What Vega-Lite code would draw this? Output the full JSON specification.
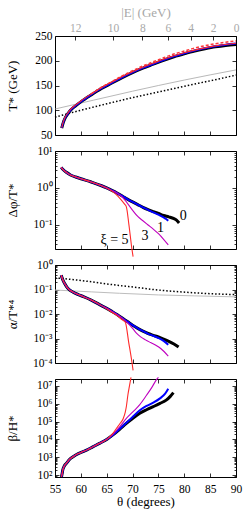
{
"$schema": "https://vega.github.io/schema/vega-lite/v6.json",
"padding": {"left": 5, "top": 5, "right": 2, "bottom": 2},
"config": {
  "font": "Liberation Serif",
  "view": {"stroke": "black", "strokeWidth": 1},
  "line": {"clip": true, "interpolate": "monotone"},
  "axis": {"domain": false, "grid": false, "labelFont": "Liberation Serif", "titleFont": "Liberation Serif", "labelFontSize": 11.5, "titleFontSize": 13, "titleFontWeight": "normal", "tickColor": "black", "labelColor": "black", "titleColor": "black", "tickWidth": 0.8, "labelFlush": false, "labelOverlap": false}
},
"datasets": {
  "d": [
    {"p":1,"s":"g","x":55,"y":102.5},{"p":1,"s":"g","x":62.5,"y":120.5},{"p":1,"s":"g","x":70,"y":138.5},{"p":1,"s":"g","x":80,"y":161},{"p":1,"s":"g","x":90,"y":181.5},
    {"p":1,"s":"dot","x":55,"y":86},{"p":1,"s":"dot","x":60,"y":100},{"p":1,"s":"dot","x":65,"y":113},{"p":1,"s":"dot","x":70,"y":125.5},{"p":1,"s":"dot","x":75,"y":137},{"p":1,"s":"dot","x":80,"y":148.5},{"p":1,"s":"dot","x":85,"y":159.5},{"p":1,"s":"dot","x":90,"y":171},
    {"p":1,"s":"k","x":56.3,"y":64},{"p":1,"s":"k","x":56.6,"y":75},{"p":1,"s":"k","x":57,"y":85},{"p":1,"s":"k","x":57.5,"y":93},{"p":1,"s":"k","x":58,"y":100},{"p":1,"s":"k","x":59,"y":109},{"p":1,"s":"k","x":60,"y":117},{"p":1,"s":"k","x":62,"y":131},{"p":1,"s":"k","x":64,"y":144},{"p":1,"s":"k","x":66,"y":155},{"p":1,"s":"k","x":68,"y":166},{"p":1,"s":"k","x":70,"y":176},{"p":1,"s":"k","x":72,"y":185},{"p":1,"s":"k","x":74,"y":193},{"p":1,"s":"k","x":76,"y":201},{"p":1,"s":"k","x":78,"y":208},{"p":1,"s":"k","x":80,"y":214},{"p":1,"s":"k","x":82,"y":219.5},{"p":1,"s":"k","x":84,"y":224},{"p":1,"s":"k","x":86,"y":228},{"p":1,"s":"k","x":88,"y":231},{"p":1,"s":"k","x":90,"y":233},
    {"p":1,"s":"b","x":56.3,"y":64.5},{"p":1,"s":"b","x":56.6,"y":75.5},{"p":1,"s":"b","x":57,"y":85.5},{"p":1,"s":"b","x":57.5,"y":93.5},{"p":1,"s":"b","x":58,"y":100.5},{"p":1,"s":"b","x":59,"y":109.5},{"p":1,"s":"b","x":60,"y":117.5},{"p":1,"s":"b","x":62,"y":131.5},{"p":1,"s":"b","x":64,"y":144.5},{"p":1,"s":"b","x":66,"y":155.5},{"p":1,"s":"b","x":68,"y":166.5},{"p":1,"s":"b","x":70,"y":176.5},{"p":1,"s":"b","x":72,"y":185.5},{"p":1,"s":"b","x":74,"y":193.5},{"p":1,"s":"b","x":76,"y":201.5},{"p":1,"s":"b","x":78,"y":208.8},{"p":1,"s":"b","x":80,"y":215},{"p":1,"s":"b","x":82,"y":220.7},{"p":1,"s":"b","x":84,"y":225.3},{"p":1,"s":"b","x":86,"y":229.4},{"p":1,"s":"b","x":88,"y":232.5},{"p":1,"s":"b","x":90,"y":234.7},
    {"p":1,"s":"r","x":56.3,"y":65},{"p":1,"s":"r","x":56.6,"y":76.5},{"p":1,"s":"r","x":57,"y":86.8},{"p":1,"s":"r","x":57.5,"y":94.8},{"p":1,"s":"r","x":58,"y":101.8},{"p":1,"s":"r","x":59,"y":110.8},{"p":1,"s":"r","x":60,"y":118.8},{"p":1,"s":"r","x":62,"y":132.8},{"p":1,"s":"r","x":64,"y":145.8},{"p":1,"s":"r","x":66,"y":157},{"p":1,"s":"r","x":68,"y":168},{"p":1,"s":"r","x":70,"y":178},{"p":1,"s":"r","x":72,"y":187},{"p":1,"s":"r","x":74,"y":195},{"p":1,"s":"r","x":76,"y":203},{"p":1,"s":"r","x":78,"y":210},{"p":1,"s":"r","x":80,"y":216},{"p":1,"s":"r","x":82,"y":221.5},{"p":1,"s":"r","x":84,"y":226},{"p":1,"s":"r","x":86,"y":230},{"p":1,"s":"r","x":88,"y":233},{"p":1,"s":"r","x":90,"y":235.5},
    {"p":1,"s":"rd","x":62,"y":133},{"p":1,"s":"rd","x":64,"y":146.5},{"p":1,"s":"rd","x":66,"y":158},{"p":1,"s":"rd","x":68,"y":169.5},{"p":1,"s":"rd","x":70,"y":180},{"p":1,"s":"rd","x":72,"y":189.5},{"p":1,"s":"rd","x":74,"y":198},{"p":1,"s":"rd","x":76,"y":206},{"p":1,"s":"rd","x":78,"y":213.5},{"p":1,"s":"rd","x":80,"y":219.5},{"p":1,"s":"rd","x":82,"y":225.5},{"p":1,"s":"rd","x":84,"y":230.5},{"p":1,"s":"rd","x":86,"y":234.5},{"p":1,"s":"rd","x":88,"y":237.5},{"p":1,"s":"rd","x":90,"y":240},

    {"p":2,"s":"k","x":56.2,"y":3.6},{"p":2,"s":"k","x":56.6,"y":3.1},{"p":2,"s":"k","x":57.2,"y":2.65},{"p":2,"s":"k","x":58,"y":2.25},{"p":2,"s":"k","x":59,"y":1.98},{"p":2,"s":"k","x":60,"y":1.78},{"p":2,"s":"k","x":62,"y":1.45},{"p":2,"s":"k","x":64,"y":1.15},{"p":2,"s":"k","x":65,"y":1.0},{"p":2,"s":"k","x":66,"y":0.86},{"p":2,"s":"k","x":67,"y":0.73},{"p":2,"s":"k","x":68,"y":0.61},{"p":2,"s":"k","x":69,"y":0.5},{"p":2,"s":"k","x":70,"y":0.42},{"p":2,"s":"k","x":71,"y":0.355},{"p":2,"s":"k","x":72,"y":0.3},{"p":2,"s":"k","x":73,"y":0.26},{"p":2,"s":"k","x":74,"y":0.23},{"p":2,"s":"k","x":75,"y":0.205},{"p":2,"s":"k","x":76,"y":0.18},{"p":2,"s":"k","x":77,"y":0.165},{"p":2,"s":"k","x":78,"y":0.148},{"p":2,"s":"k","x":78.5,"y":0.135},{"p":2,"s":"k","x":79,"y":0.113},
    {"p":2,"s":"b","x":56.2,"y":3.6},{"p":2,"s":"b","x":56.6,"y":3.1},{"p":2,"s":"b","x":57.2,"y":2.65},{"p":2,"s":"b","x":58,"y":2.25},{"p":2,"s":"b","x":59,"y":1.98},{"p":2,"s":"b","x":60,"y":1.78},{"p":2,"s":"b","x":62,"y":1.45},{"p":2,"s":"b","x":64,"y":1.15},{"p":2,"s":"b","x":65,"y":1.0},{"p":2,"s":"b","x":66,"y":0.86},{"p":2,"s":"b","x":67,"y":0.73},{"p":2,"s":"b","x":68,"y":0.61},{"p":2,"s":"b","x":69,"y":0.5},{"p":2,"s":"b","x":70,"y":0.42},{"p":2,"s":"b","x":71,"y":0.355},{"p":2,"s":"b","x":72,"y":0.3},{"p":2,"s":"b","x":73,"y":0.255},{"p":2,"s":"b","x":74,"y":0.22},{"p":2,"s":"b","x":75,"y":0.19},{"p":2,"s":"b","x":76,"y":0.16},{"p":2,"s":"b","x":76.5,"y":0.145},{"p":2,"s":"b","x":76.9,"y":0.13},
    {"p":2,"s":"m","x":56.2,"y":3.6},{"p":2,"s":"m","x":56.6,"y":3.1},{"p":2,"s":"m","x":57.2,"y":2.65},{"p":2,"s":"m","x":58,"y":2.25},{"p":2,"s":"m","x":59,"y":1.98},{"p":2,"s":"m","x":60,"y":1.78},{"p":2,"s":"m","x":62,"y":1.45},{"p":2,"s":"m","x":64,"y":1.15},{"p":2,"s":"m","x":65,"y":1.0},{"p":2,"s":"m","x":66,"y":0.86},{"p":2,"s":"m","x":67,"y":0.73},{"p":2,"s":"m","x":68,"y":0.57},{"p":2,"s":"m","x":68.7,"y":0.44},{"p":2,"s":"m","x":69.5,"y":0.31},{"p":2,"s":"m","x":70.1,"y":0.24},{"p":2,"s":"m","x":71,"y":0.17},{"p":2,"s":"m","x":72,"y":0.13},{"p":2,"s":"m","x":73,"y":0.1},{"p":2,"s":"m","x":74,"y":0.077},{"p":2,"s":"m","x":75,"y":0.058},{"p":2,"s":"m","x":76,"y":0.041},{"p":2,"s":"m","x":76.9,"y":0.029},
    {"p":2,"s":"r","x":56.2,"y":3.6},{"p":2,"s":"r","x":56.6,"y":3.1},{"p":2,"s":"r","x":57.2,"y":2.65},{"p":2,"s":"r","x":58,"y":2.25},{"p":2,"s":"r","x":59,"y":1.98},{"p":2,"s":"r","x":60,"y":1.78},{"p":2,"s":"r","x":62,"y":1.45},{"p":2,"s":"r","x":64,"y":1.15},{"p":2,"s":"r","x":65,"y":1.0},{"p":2,"s":"r","x":66,"y":0.82},{"p":2,"s":"r","x":67,"y":0.63},{"p":2,"s":"r","x":67.5,"y":0.53},{"p":2,"s":"r","x":68,"y":0.44},{"p":2,"s":"r","x":68.5,"y":0.36},{"p":2,"s":"r","x":68.8,"y":0.31},{"p":2,"s":"r","x":69.3,"y":0.1},{"p":2,"s":"r","x":69.9,"y":0.021},{"p":2,"s":"r","x":70.1,"y":0.014},

    {"p":3,"s":"lg","x":55,"y":0.095},{"p":3,"s":"lg","x":62,"y":0.08},{"p":3,"s":"lg","x":67.5,"y":0.07},{"p":3,"s":"lg","x":75,"y":0.06},{"p":3,"s":"lg","x":82,"y":0.055},{"p":3,"s":"lg","x":90,"y":0.05},
    {"p":3,"s":"dot","x":55,"y":0.3},{"p":3,"s":"dot","x":58,"y":0.26},{"p":3,"s":"dot","x":61,"y":0.22},{"p":3,"s":"dot","x":64,"y":0.18},{"p":3,"s":"dot","x":67.5,"y":0.145},{"p":3,"s":"dot","x":71,"y":0.12},{"p":3,"s":"dot","x":74,"y":0.1},{"p":3,"s":"dot","x":77,"y":0.087},{"p":3,"s":"dot","x":80.4,"y":0.077},{"p":3,"s":"dot","x":84,"y":0.069},{"p":3,"s":"dot","x":87,"y":0.065},{"p":3,"s":"dot","x":90,"y":0.062},
    {"p":3,"s":"k","x":56.2,"y":0.38},{"p":3,"s":"k","x":56.5,"y":0.25},{"p":3,"s":"k","x":56.9,"y":0.17},{"p":3,"s":"k","x":57.3,"y":0.125},{"p":3,"s":"k","x":57.8,"y":0.097},{"p":3,"s":"k","x":58.5,"y":0.078},{"p":3,"s":"k","x":59.5,"y":0.062},{"p":3,"s":"k","x":60.5,"y":0.051},{"p":3,"s":"k","x":62,"y":0.037},{"p":3,"s":"k","x":64,"y":0.022},{"p":3,"s":"k","x":65,"y":0.017},{"p":3,"s":"k","x":66,"y":0.0128},{"p":3,"s":"k","x":67,"y":0.0095},{"p":3,"s":"k","x":68,"y":0.0068},{"p":3,"s":"k","x":69,"y":0.0049},{"p":3,"s":"k","x":70,"y":0.0035},{"p":3,"s":"k","x":71,"y":0.0026},{"p":3,"s":"k","x":72,"y":0.002},{"p":3,"s":"k","x":73,"y":0.0016},{"p":3,"s":"k","x":74,"y":0.00135},{"p":3,"s":"k","x":75,"y":0.00115},{"p":3,"s":"k","x":76,"y":0.00095},{"p":3,"s":"k","x":77,"y":0.00077},{"p":3,"s":"k","x":78,"y":0.0006},{"p":3,"s":"k","x":78.9,"y":0.00045},
    {"p":3,"s":"b","x":56.2,"y":0.38},{"p":3,"s":"b","x":56.5,"y":0.25},{"p":3,"s":"b","x":56.9,"y":0.17},{"p":3,"s":"b","x":57.3,"y":0.125},{"p":3,"s":"b","x":57.8,"y":0.097},{"p":3,"s":"b","x":58.5,"y":0.078},{"p":3,"s":"b","x":59.5,"y":0.062},{"p":3,"s":"b","x":60.5,"y":0.051},{"p":3,"s":"b","x":62,"y":0.037},{"p":3,"s":"b","x":64,"y":0.022},{"p":3,"s":"b","x":65,"y":0.017},{"p":3,"s":"b","x":66,"y":0.0128},{"p":3,"s":"b","x":67,"y":0.0095},{"p":3,"s":"b","x":68,"y":0.0068},{"p":3,"s":"b","x":69,"y":0.0049},{"p":3,"s":"b","x":70,"y":0.0035},{"p":3,"s":"b","x":71,"y":0.0026},{"p":3,"s":"b","x":72,"y":0.002},{"p":3,"s":"b","x":73,"y":0.00155},{"p":3,"s":"b","x":74,"y":0.0013},{"p":3,"s":"b","x":75,"y":0.00105},{"p":3,"s":"b","x":76,"y":0.0008},{"p":3,"s":"b","x":76.9,"y":0.00056},
    {"p":3,"s":"m","x":56.2,"y":0.38},{"p":3,"s":"m","x":56.5,"y":0.25},{"p":3,"s":"m","x":56.9,"y":0.17},{"p":3,"s":"m","x":57.3,"y":0.125},{"p":3,"s":"m","x":57.8,"y":0.097},{"p":3,"s":"m","x":58.5,"y":0.078},{"p":3,"s":"m","x":59.5,"y":0.062},{"p":3,"s":"m","x":60.5,"y":0.051},{"p":3,"s":"m","x":62,"y":0.037},{"p":3,"s":"m","x":64,"y":0.022},{"p":3,"s":"m","x":65,"y":0.017},{"p":3,"s":"m","x":66,"y":0.0128},{"p":3,"s":"m","x":67,"y":0.0095},{"p":3,"s":"m","x":68,"y":0.0068},{"p":3,"s":"m","x":69,"y":0.0044},{"p":3,"s":"m","x":69.5,"y":0.0034},{"p":3,"s":"m","x":70,"y":0.0026},{"p":3,"s":"m","x":70.7,"y":0.0017},{"p":3,"s":"m","x":71.5,"y":0.0012},{"p":3,"s":"m","x":72.5,"y":0.00088},{"p":3,"s":"m","x":73.5,"y":0.00068},{"p":3,"s":"m","x":74.5,"y":0.00053},{"p":3,"s":"m","x":75.5,"y":0.00038},{"p":3,"s":"m","x":76.9,"y":0.00019},
    {"p":3,"s":"r","x":56.2,"y":0.38},{"p":3,"s":"r","x":56.5,"y":0.25},{"p":3,"s":"r","x":56.9,"y":0.17},{"p":3,"s":"r","x":57.3,"y":0.125},{"p":3,"s":"r","x":57.8,"y":0.097},{"p":3,"s":"r","x":58.5,"y":0.078},{"p":3,"s":"r","x":59.5,"y":0.062},{"p":3,"s":"r","x":60.5,"y":0.051},{"p":3,"s":"r","x":62,"y":0.037},{"p":3,"s":"r","x":64,"y":0.022},{"p":3,"s":"r","x":65,"y":0.0162},{"p":3,"s":"r","x":66,"y":0.0118},{"p":3,"s":"r","x":67,"y":0.0086},{"p":3,"s":"r","x":68,"y":0.0058},{"p":3,"s":"r","x":68.6,"y":0.0046},{"p":3,"s":"r","x":69.25,"y":0.0007},{"p":3,"s":"r","x":69.9,"y":0.0001},{"p":3,"s":"r","x":70.1,"y":0.00005},

    {"p":4,"s":"k","x":56.25,"y":78},{"p":4,"s":"k","x":56.4,"y":130},{"p":4,"s":"k","x":56.5,"y":190},{"p":4,"s":"k","x":56.8,"y":320},{"p":4,"s":"k","x":57.2,"y":450},{"p":4,"s":"k","x":57.8,"y":750},{"p":4,"s":"k","x":58.5,"y":1070},{"p":4,"s":"k","x":59.5,"y":1600},{"p":4,"s":"k","x":60.3,"y":2000},{"p":4,"s":"k","x":61.1,"y":2500},{"p":4,"s":"k","x":62.3,"y":3800},{"p":4,"s":"k","x":63.6,"y":6000},{"p":4,"s":"k","x":65,"y":10000},{"p":4,"s":"k","x":66.2,"y":18000},{"p":4,"s":"k","x":67.5,"y":37000},{"p":4,"s":"k","x":68.8,"y":80000},{"p":4,"s":"k","x":70,"y":150000},{"p":4,"s":"k","x":71.4,"y":290000},{"p":4,"s":"k","x":72.7,"y":460000},{"p":4,"s":"k","x":74,"y":690000},{"p":4,"s":"k","x":75.3,"y":1050000},{"p":4,"s":"k","x":76.5,"y":1600000},{"p":4,"s":"k","x":77.3,"y":2600000},{"p":4,"s":"k","x":77.9,"y":4200000},
    {"p":4,"s":"b","x":56.25,"y":78},{"p":4,"s":"b","x":56.4,"y":130},{"p":4,"s":"b","x":56.5,"y":190},{"p":4,"s":"b","x":56.8,"y":320},{"p":4,"s":"b","x":57.2,"y":450},{"p":4,"s":"b","x":57.8,"y":750},{"p":4,"s":"b","x":58.5,"y":1070},{"p":4,"s":"b","x":59.5,"y":1600},{"p":4,"s":"b","x":60.3,"y":2000},{"p":4,"s":"b","x":61.1,"y":2500},{"p":4,"s":"b","x":62.3,"y":3800},{"p":4,"s":"b","x":63.6,"y":6000},{"p":4,"s":"b","x":65,"y":10000},{"p":4,"s":"b","x":66.2,"y":18000},{"p":4,"s":"b","x":67.5,"y":38000},{"p":4,"s":"b","x":68.8,"y":85000},{"p":4,"s":"b","x":70,"y":180000},{"p":4,"s":"b","x":71.4,"y":430000},{"p":4,"s":"b","x":72.7,"y":750000},{"p":4,"s":"b","x":74,"y":1150000},{"p":4,"s":"b","x":75.3,"y":2000000},{"p":4,"s":"b","x":76.3,"y":3700000},{"p":4,"s":"b","x":76.9,"y":7000000},
    {"p":4,"s":"m","x":56.25,"y":78},{"p":4,"s":"m","x":56.4,"y":130},{"p":4,"s":"m","x":56.5,"y":190},{"p":4,"s":"m","x":56.8,"y":320},{"p":4,"s":"m","x":57.2,"y":450},{"p":4,"s":"m","x":57.8,"y":750},{"p":4,"s":"m","x":58.5,"y":1070},{"p":4,"s":"m","x":59.5,"y":1600},{"p":4,"s":"m","x":60.3,"y":2000},{"p":4,"s":"m","x":61.1,"y":2500},{"p":4,"s":"m","x":62.3,"y":3800},{"p":4,"s":"m","x":63.6,"y":6000},{"p":4,"s":"m","x":65,"y":10000},{"p":4,"s":"m","x":66.2,"y":19500},{"p":4,"s":"m","x":67.5,"y":50000},{"p":4,"s":"m","x":68.8,"y":150000},{"p":4,"s":"m","x":70.1,"y":360000},{"p":4,"s":"m","x":71.4,"y":900000},{"p":4,"s":"m","x":72.7,"y":3000000},{"p":4,"s":"m","x":73.7,"y":8000000},{"p":4,"s":"m","x":74.6,"y":22000000},{"p":4,"s":"m","x":75,"y":30000000},
    {"p":4,"s":"r","x":56.25,"y":78},{"p":4,"s":"r","x":56.4,"y":130},{"p":4,"s":"r","x":56.5,"y":190},{"p":4,"s":"r","x":56.8,"y":320},{"p":4,"s":"r","x":57.2,"y":450},{"p":4,"s":"r","x":57.8,"y":750},{"p":4,"s":"r","x":58.5,"y":1070},{"p":4,"s":"r","x":59.5,"y":1600},{"p":4,"s":"r","x":60.3,"y":2000},{"p":4,"s":"r","x":61.1,"y":2500},{"p":4,"s":"r","x":62.3,"y":3800},{"p":4,"s":"r","x":63.6,"y":6000},{"p":4,"s":"r","x":65,"y":10000},{"p":4,"s":"r","x":65.5,"y":13500},{"p":4,"s":"r","x":66.2,"y":22000},{"p":4,"s":"r","x":66.9,"y":42000},{"p":4,"s":"r","x":67.6,"y":80000},{"p":4,"s":"r","x":68.2,"y":150000},{"p":4,"s":"r","x":68.6,"y":350000},{"p":4,"s":"r","x":68.8,"y":700000},{"p":4,"s":"r","x":69.1,"y":3200000},{"p":4,"s":"r","x":69.4,"y":10000000},{"p":4,"s":"r","x":69.7,"y":30000000}
  ],
  "lab": [
    {"x":79.8,"y":0.17,"t":"0"},{"x":75.4,"y":0.085,"t":"1"},{"x":72.4,"y":0.05,"t":"3"},{"x":66.5,"y":0.039,"t":"ξ = 5"}
  ]
},
"spacing": 16,
"bounds": "flush",
"vconcat": [
  {
    "width": 181, "height": 99,
    "data": {"name": "d"},
    "transform": [{"filter": "datum.p == 1"}],
    "layer": [
      {"mark": {"type": "point", "opacity": 0, "clip": true},
       "encoding": {
         "x": {"field": "x", "type": "quantitative", "scale": {"domain": [55, 90], "nice": false, "zero": false}, "axis": {"orient": "bottom", "values": [55,60,65,70,75,80,85,90], "tickSize": -4, "labels": false, "title": null}},
         "y": {"field": "y", "type": "quantitative", "scale": {"domain": [50, 250], "nice": false, "zero": false}, "axis": {"orient": "left", "values": [50,100,150,200,250], "tickSize": -4, "labelPadding": 7, "title": "T* (GeV)", "minExtent": 30, "maxExtent": 30, "titlePadding": 6}}
       }},
      {"mark": {"type": "point", "opacity": 0, "clip": true},
       "encoding": {
         "x": {"field": "x", "type": "quantitative", "scale": {"domain": [55, 90], "nice": false, "zero": false}, "axis": {"orient": "top", "values": [58.93,66.2,71.9,76.85,81.24,85.6,90], "tickSize": -4, "labelPadding": 7, "labelColor": "#a8a8a8", "labelExpr": "datum.value==90?'0':datum.value==85.6?'2':datum.value==81.24?'4':datum.value==76.85?'6':datum.value==71.9?'8':datum.value==66.2?'10':datum.value==58.93?'12':''", "title": "|E| (GeV)", "titleColor": "#a8a8a8", "minExtent": 14, "maxExtent": 14, "titlePadding": 3}},
         "y": {"field": "y", "type": "quantitative", "scale": {"domain": [50, 250], "nice": false, "zero": false}, "axis": {"orient": "right", "values": [50,100,150,200,250], "tickSize": -4, "labels": false, "title": null}}
       }},
      {"transform": [{"filter": "datum.s == 'g'"}], "mark": {"type": "line", "color": "#999999", "strokeWidth": 0.7},
       "encoding": {"x": {"field": "x", "type": "quantitative", "scale": {"domain": [55, 90], "nice": false, "zero": false}, "axis": null}, "y": {"field": "y", "type": "quantitative", "scale": {"domain": [50, 250], "nice": false, "zero": false}, "axis": null}}},
      {"transform": [{"filter": "datum.s == 'dot'"}], "mark": {"type": "line", "color": "#000000", "strokeWidth": 1.5, "strokeDash": [1.5, 2]},
       "encoding": {"x": {"field": "x", "type": "quantitative", "scale": {"domain": [55, 90], "nice": false, "zero": false}, "axis": null}, "y": {"field": "y", "type": "quantitative", "scale": {"domain": [50, 250], "nice": false, "zero": false}, "axis": null}}},
      {"transform": [{"filter": "datum.s == 'k'"}], "mark": {"type": "line", "color": "#000000", "strokeWidth": 3},
       "encoding": {"x": {"field": "x", "type": "quantitative", "scale": {"domain": [55, 90], "nice": false, "zero": false}, "axis": null}, "y": {"field": "y", "type": "quantitative", "scale": {"domain": [50, 250], "nice": false, "zero": false}, "axis": null}}},
      {"transform": [{"filter": "datum.s == 'b'"}], "mark": {"type": "line", "color": "#0000ff", "strokeWidth": 2},
       "encoding": {"x": {"field": "x", "type": "quantitative", "scale": {"domain": [55, 90], "nice": false, "zero": false}, "axis": null}, "y": {"field": "y", "type": "quantitative", "scale": {"domain": [50, 250], "nice": false, "zero": false}, "axis": null}}},
      {"transform": [{"filter": "datum.s == 'r'"}], "mark": {"type": "line", "color": "#ff2a2a", "strokeWidth": 1.1},
       "encoding": {"x": {"field": "x", "type": "quantitative", "scale": {"domain": [55, 90], "nice": false, "zero": false}, "axis": null}, "y": {"field": "y", "type": "quantitative", "scale": {"domain": [50, 250], "nice": false, "zero": false}, "axis": null}}},
      {"transform": [{"filter": "datum.s == 'rd'"}], "mark": {"type": "line", "color": "#ff3838", "strokeWidth": 1.5, "strokeDash": [3, 2]},
       "encoding": {"x": {"field": "x", "type": "quantitative", "scale": {"domain": [55, 90], "nice": false, "zero": false}, "axis": null}, "y": {"field": "y", "type": "quantitative", "scale": {"domain": [50, 250], "nice": false, "zero": false}, "axis": null}}}
    ],
    "resolve": {"axis": {"x": "independent", "y": "independent"}}
  },
  {
    "width": 181, "height": 98,
    "data": {"name": "d"},
    "transform": [{"filter": "datum.p == 2"}],
    "layer": [
      {"mark": {"type": "point", "opacity": 0, "clip": true},
       "encoding": {
         "x": {"field": "x", "type": "quantitative", "scale": {"domain": [55, 90], "nice": false, "zero": false}, "axis": {"orient": "bottom", "values": [55,60,65,70,75,80,85,90], "tickSize": -4, "labels": false, "title": null}},
         "y": {"field": "y", "type": "quantitative", "scale": {"type": "log", "domain": [0.0224, 10], "nice": false}, "axis": {"orient": "left", "values": [0.03,0.04,0.05,0.06,0.07,0.08,0.09,0.1,0.2,0.3,0.4,0.5,0.6,0.7,0.8,0.9,1,2,3,4,5,6,7,8,9,10], "tickSize": {"condition": {"test": "indexof([0.1,1,10], datum.value) >= 0", "value": -4}, "value": -2}, "labelPadding": 7, "labelExpr": "datum.value==10?'10¹':datum.value==1?'10⁰':datum.value==0.1?'10⁻¹':''", "title": "Δφ/T*", "minExtent": 30, "maxExtent": 30, "titlePadding": 6}}
       }},
      {"mark": {"type": "point", "opacity": 0, "clip": true},
       "encoding": {
         "x": {"field": "x", "type": "quantitative", "scale": {"domain": [55, 90], "nice": false, "zero": false}, "axis": {"orient": "top", "values": [55,60,65,70,75,80,85,90], "tickSize": -4, "labels": false, "title": null}},
         "y": {"field": "y", "type": "quantitative", "scale": {"type": "log", "domain": [0.0224, 10], "nice": false}, "axis": {"orient": "right", "values": [0.03,0.04,0.05,0.06,0.07,0.08,0.09,0.1,0.2,0.3,0.4,0.5,0.6,0.7,0.8,0.9,1,2,3,4,5,6,7,8,9,10], "tickSize": {"condition": {"test": "indexof([0.1,1,10], datum.value) >= 0", "value": -4}, "value": -2}, "labels": false, "title": null}}
       }},
      {"transform": [{"filter": "datum.s == 'k'"}], "mark": {"type": "line", "color": "#000000", "strokeWidth": 3},
       "encoding": {"x": {"field": "x", "type": "quantitative", "scale": {"domain": [55, 90], "nice": false, "zero": false}, "axis": null}, "y": {"field": "y", "type": "quantitative", "scale": {"type": "log", "domain": [0.0224, 10], "nice": false}, "axis": null}}},
      {"transform": [{"filter": "datum.s == 'b'"}], "mark": {"type": "line", "color": "#0000ff", "strokeWidth": 2},
       "encoding": {"x": {"field": "x", "type": "quantitative", "scale": {"domain": [55, 90], "nice": false, "zero": false}, "axis": null}, "y": {"field": "y", "type": "quantitative", "scale": {"type": "log", "domain": [0.0224, 10], "nice": false}, "axis": null}}},
      {"transform": [{"filter": "datum.s == 'm'"}], "mark": {"type": "line", "color": "#bf00bf", "strokeWidth": 1.1},
       "encoding": {"x": {"field": "x", "type": "quantitative", "scale": {"domain": [55, 90], "nice": false, "zero": false}, "axis": null}, "y": {"field": "y", "type": "quantitative", "scale": {"type": "log", "domain": [0.0224, 10], "nice": false}, "axis": null}}},
      {"transform": [{"filter": "datum.s == 'r'"}], "mark": {"type": "line", "color": "#ff2a2a", "strokeWidth": 1.1},
       "encoding": {"x": {"field": "x", "type": "quantitative", "scale": {"domain": [55, 90], "nice": false, "zero": false}, "axis": null}, "y": {"field": "y", "type": "quantitative", "scale": {"type": "log", "domain": [0.0224, 10], "nice": false}, "axis": null}}},
      {"data": {"name": "lab"},
       "mark": {"type": "text", "fontSize": 14, "font": "Liberation Serif", "align": "center", "baseline": "middle"},
       "encoding": {
         "x": {"field": "x", "type": "quantitative", "scale": {"domain": [55, 90], "nice": false, "zero": false}, "axis": null},
         "y": {"field": "y", "type": "quantitative", "scale": {"type": "log", "domain": [0.0224, 10], "nice": false}, "axis": null},
         "text": {"field": "t"}
       }}
    ],
    "resolve": {"axis": {"x": "independent", "y": "independent"}}
  },
  {
    "width": 181, "height": 98,
    "data": {"name": "d"},
    "transform": [{"filter": "datum.p == 3"}],
    "layer": [
      {"mark": {"type": "point", "opacity": 0, "clip": true},
       "encoding": {
         "x": {"field": "x", "type": "quantitative", "scale": {"domain": [55, 90], "nice": false, "zero": false}, "axis": {"orient": "bottom", "values": [55,60,65,70,75,80,85,90], "tickSize": -4, "labels": false, "title": null}},
         "y": {"field": "y", "type": "quantitative", "scale": {"type": "log", "domain": [0.0001, 1], "nice": false}, "axis": {"orient": "left", "values": [0.0001,0.0002,0.0003,0.0004,0.0005,0.0006,0.0007,0.0008,0.0009,0.001,0.002,0.003,0.004,0.005,0.006,0.007,0.008,0.009,0.01,0.02,0.03,0.04,0.05,0.06,0.07,0.08,0.09,0.1,0.2,0.3,0.4,0.5,0.6,0.7,0.8,0.9,1], "tickSize": {"condition": {"test": "indexof([0.0001,0.001,0.01,0.1,1], datum.value) >= 0", "value": -4}, "value": -2}, "labelPadding": 7, "labelExpr": "datum.value==1?'10⁰':datum.value==0.1?'10⁻¹':datum.value==0.01?'10⁻²':datum.value==0.001?'10⁻³':datum.value==0.0001?'10⁻⁴':''", "title": "α/T*⁴", "minExtent": 30, "maxExtent": 30, "titlePadding": 6}}
       }},
      {"mark": {"type": "point", "opacity": 0, "clip": true},
       "encoding": {
         "x": {"field": "x", "type": "quantitative", "scale": {"domain": [55, 90], "nice": false, "zero": false}, "axis": {"orient": "top", "values": [55,60,65,70,75,80,85,90], "tickSize": -4, "labels": false, "title": null}},
         "y": {"field": "y", "type": "quantitative", "scale": {"type": "log", "domain": [0.0001, 1], "nice": false}, "axis": {"orient": "right", "values": [0.0001,0.0002,0.0003,0.0004,0.0005,0.0006,0.0007,0.0008,0.0009,0.001,0.002,0.003,0.004,0.005,0.006,0.007,0.008,0.009,0.01,0.02,0.03,0.04,0.05,0.06,0.07,0.08,0.09,0.1,0.2,0.3,0.4,0.5,0.6,0.7,0.8,0.9,1], "tickSize": {"condition": {"test": "indexof([0.0001,0.001,0.01,0.1,1], datum.value) >= 0", "value": -4}, "value": -2}, "labels": false, "title": null}}
       }},
      {"transform": [{"filter": "datum.s == 'lg'"}], "mark": {"type": "line", "color": "#bdbdbd", "strokeWidth": 1},
       "encoding": {"x": {"field": "x", "type": "quantitative", "scale": {"domain": [55, 90], "nice": false, "zero": false}, "axis": null}, "y": {"field": "y", "type": "quantitative", "scale": {"type": "log", "domain": [0.0001, 1], "nice": false}, "axis": null}}},
      {"transform": [{"filter": "datum.s == 'dot'"}], "mark": {"type": "line", "color": "#000000", "strokeWidth": 1.5, "strokeDash": [1.5, 2]},
       "encoding": {"x": {"field": "x", "type": "quantitative", "scale": {"domain": [55, 90], "nice": false, "zero": false}, "axis": null}, "y": {"field": "y", "type": "quantitative", "scale": {"type": "log", "domain": [0.0001, 1], "nice": false}, "axis": null}}},
      {"transform": [{"filter": "datum.s == 'k'"}], "mark": {"type": "line", "color": "#000000", "strokeWidth": 3},
       "encoding": {"x": {"field": "x", "type": "quantitative", "scale": {"domain": [55, 90], "nice": false, "zero": false}, "axis": null}, "y": {"field": "y", "type": "quantitative", "scale": {"type": "log", "domain": [0.0001, 1], "nice": false}, "axis": null}}},
      {"transform": [{"filter": "datum.s == 'b'"}], "mark": {"type": "line", "color": "#0000ff", "strokeWidth": 2},
       "encoding": {"x": {"field": "x", "type": "quantitative", "scale": {"domain": [55, 90], "nice": false, "zero": false}, "axis": null}, "y": {"field": "y", "type": "quantitative", "scale": {"type": "log", "domain": [0.0001, 1], "nice": false}, "axis": null}}},
      {"transform": [{"filter": "datum.s == 'm'"}], "mark": {"type": "line", "color": "#bf00bf", "strokeWidth": 1.1},
       "encoding": {"x": {"field": "x", "type": "quantitative", "scale": {"domain": [55, 90], "nice": false, "zero": false}, "axis": null}, "y": {"field": "y", "type": "quantitative", "scale": {"type": "log", "domain": [0.0001, 1], "nice": false}, "axis": null}}},
      {"transform": [{"filter": "datum.s == 'r'"}], "mark": {"type": "line", "color": "#ff2a2a", "strokeWidth": 1.1},
       "encoding": {"x": {"field": "x", "type": "quantitative", "scale": {"domain": [55, 90], "nice": false, "zero": false}, "axis": null}, "y": {"field": "y", "type": "quantitative", "scale": {"type": "log", "domain": [0.0001, 1], "nice": false}, "axis": null}}}
    ],
    "resolve": {"axis": {"x": "independent", "y": "independent"}}
  },
  {
    "width": 181, "height": 98,
    "data": {"name": "d"},
    "transform": [{"filter": "datum.p == 4"}],
    "layer": [
      {"mark": {"type": "point", "opacity": 0, "clip": true},
       "encoding": {
         "x": {"field": "x", "type": "quantitative", "scale": {"domain": [55, 90], "nice": false, "zero": false}, "axis": {"orient": "bottom", "values": [55,60,65,70,75,80,85,90], "tickSize": -4, "labelPadding": 10, "title": "θ (degrees)", "titlePadding": 1}},
         "y": {"field": "y", "type": "quantitative", "scale": {"type": "log", "domain": [77.6, 24500000], "nice": false}, "axis": {"orient": "left", "values": [80,90,100,200,300,400,500,600,700,800,900,1000,2000,3000,4000,5000,6000,7000,8000,9000,10000,20000,30000,40000,50000,60000,70000,80000,90000,100000,200000,300000,400000,500000,600000,700000,800000,900000,1000000,2000000,3000000,4000000,5000000,6000000,7000000,8000000,9000000,10000000,20000000], "tickSize": {"condition": {"test": "indexof([100,1000,10000,100000,1000000,10000000], datum.value) >= 0", "value": -4}, "value": -2}, "labelPadding": 7, "labelExpr": "datum.value==100?'10²':datum.value==1000?'10³':datum.value==10000?'10⁴':datum.value==100000?'10⁵':datum.value==1000000?'10⁶':datum.value==10000000?'10⁷':''", "title": "β/H*", "minExtent": 30, "maxExtent": 30, "titlePadding": 6}}
       }},
      {"mark": {"type": "point", "opacity": 0, "clip": true},
       "encoding": {
         "x": {"field": "x", "type": "quantitative", "scale": {"domain": [55, 90], "nice": false, "zero": false}, "axis": {"orient": "top", "values": [55,60,65,70,75,80,85,90], "tickSize": -4, "labels": false, "title": null}},
         "y": {"field": "y", "type": "quantitative", "scale": {"type": "log", "domain": [77.6, 24500000], "nice": false}, "axis": {"orient": "right", "values": [80,90,100,200,300,400,500,600,700,800,900,1000,2000,3000,4000,5000,6000,7000,8000,9000,10000,20000,30000,40000,50000,60000,70000,80000,90000,100000,200000,300000,400000,500000,600000,700000,800000,900000,1000000,2000000,3000000,4000000,5000000,6000000,7000000,8000000,9000000,10000000,20000000], "tickSize": {"condition": {"test": "indexof([100,1000,10000,100000,1000000,10000000], datum.value) >= 0", "value": -4}, "value": -2}, "labels": false, "title": null}}
       }},
      {"transform": [{"filter": "datum.s == 'k'"}], "mark": {"type": "line", "color": "#000000", "strokeWidth": 3},
       "encoding": {"x": {"field": "x", "type": "quantitative", "scale": {"domain": [55, 90], "nice": false, "zero": false}, "axis": null}, "y": {"field": "y", "type": "quantitative", "scale": {"type": "log", "domain": [77.6, 24500000], "nice": false}, "axis": null}}},
      {"transform": [{"filter": "datum.s == 'b'"}], "mark": {"type": "line", "color": "#0000ff", "strokeWidth": 2},
       "encoding": {"x": {"field": "x", "type": "quantitative", "scale": {"domain": [55, 90], "nice": false, "zero": false}, "axis": null}, "y": {"field": "y", "type": "quantitative", "scale": {"type": "log", "domain": [77.6, 24500000], "nice": false}, "axis": null}}},
      {"transform": [{"filter": "datum.s == 'm'"}], "mark": {"type": "line", "color": "#bf00bf", "strokeWidth": 1.1},
       "encoding": {"x": {"field": "x", "type": "quantitative", "scale": {"domain": [55, 90], "nice": false, "zero": false}, "axis": null}, "y": {"field": "y", "type": "quantitative", "scale": {"type": "log", "domain": [77.6, 24500000], "nice": false}, "axis": null}}},
      {"transform": [{"filter": "datum.s == 'r'"}], "mark": {"type": "line", "color": "#ff2a2a", "strokeWidth": 1.1},
       "encoding": {"x": {"field": "x", "type": "quantitative", "scale": {"domain": [55, 90], "nice": false, "zero": false}, "axis": null}, "y": {"field": "y", "type": "quantitative", "scale": {"type": "log", "domain": [77.6, 24500000], "nice": false}, "axis": null}}}
    ],
    "resolve": {"axis": {"x": "independent", "y": "independent"}}
  }
]
}
